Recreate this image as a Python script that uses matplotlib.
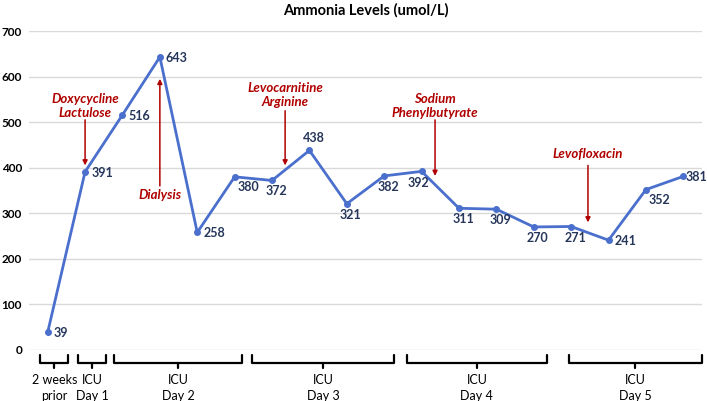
import matplotlib
matplotlib.use("Agg")
import matplotlib.pyplot as plt

plt.rcParams['font.family'] = ['Lato', 'DejaVu Sans']

title = "Ammonia Levels (umol/L)"
values = [39, 391, 516, 643, 258, 380, 372, 438, 321, 382, 392, 311, 309, 270, 271, 241, 352, 381]
label_pos = ["right", "right", "right", "right", "right", "rbelow", "below", "above", "below",
             "below", "lbelow", "below", "below", "below", "below", "right", "rbelow", "rightn"]

group_labels = ["2 weeks\nprior", "ICU\nDay 1", "ICU\nDay 2", "ICU\nDay 3", "ICU\nDay 4", "ICU\nDay 5"]
group_spans = [(-0.2, 0.55), (0.81, 1.56), (1.78, 5.2), (5.46, 9.26), (9.6, 13.36), (13.93, 17.5)]

events = ["Doxycycline\nLactulose", "Dialysis", "Levocarnitine\nArginine", "Sodium\nPhenylbutyrate", "Levofloxacin"]
event_x = [1.0, 3.0, 6.35, 10.36, 14.45]
event_tail = [505, 360, 525, 505, 405]
event_tip = [405, 595, 405, 382, 280]
event_text_y = [536, 340, 560, 536, 430]

line_color = "#4A6FCC"
label_color = "#25365A"
red = "#B00000"

fig = plt.figure(figsize=(7.07, 4.01), dpi=100)
ax = fig.add_axes([29/707, 1-350/401, (702-29)/707, (350-31)/401])

x = list(range(len(values)))
ax.plot(x, values, color=line_color, lw=2, marker='o', ms=4, zorder=3)

offsets = {"right": (6, -1, "left", "center"),
           "rightn": (2, -1, "left", "center"),
           "rbelow": (3, -10, "left", "center"),
           "below": (4, -11, "center", "center"),
           "lbelow": (-3, -12, "center", "center"),
           "above": (4, 12, "center", "center")}
for xi, v, p in zip(x, values, label_pos):
    dx, dy, ha, va = offsets[p]
    ax.annotate(str(v), (xi, v), xytext=(dx, dy), textcoords="offset pixels",
                ha=ha, va=va, fontsize=9, fontweight="bold", color=label_color, zorder=4)

ax.set_xlim(-0.5, len(values) - 0.5)
ax.set_ylim(0, 700)
ax.set_yticks(range(0, 701, 100))
ax.yaxis.grid(True, color="#D9D9D9", lw=1)
ax.set_axisbelow(True)
ax.set_xticks([])
for s in ax.spines.values():
    s.set_visible(False)
ax.tick_params(axis='y', length=0, pad=5)
for lab in ax.get_yticklabels():
    lab.set_fontweight("bold")
    lab.set_fontsize(8.5)

ax.set_title(title, fontsize=10.5, fontweight="bold", pad=12)

# events
for t, ex, tail, tip, ty in zip(events, event_x, event_tail, event_tip, event_text_y):
    ax.annotate("", xy=(ex, tip), xytext=(ex, tail),
                arrowprops=dict(arrowstyle="-|>", color=red, lw=1.1, mutation_scale=7, shrinkA=0, shrinkB=0))
    ax.text(ex, ty, t, ha="center", va="center", fontsize=9.5, fontweight="bold", fontstyle="italic",
            color=red, linespacing=1.2)

# brackets
ytop, ybot, ytick = -11, -29, -40
for (a, b), lab in zip(group_spans, group_labels):
    ax.plot([a, a, b, b], [ytop, ybot, ybot, ytop], color="black", lw=1.6, clip_on=False,
            solid_joinstyle="round", solid_capstyle="round")
    m = (a + b) / 2
    ax.plot([m, m], [ybot, ytick], color="black", lw=1.6, clip_on=False, solid_capstyle="round")
    ax.text(m, -83, lab, ha="center", va="center", fontsize=9, linespacing=1.35, clip_on=False)

fig.savefig("out.png", dpi=100)
